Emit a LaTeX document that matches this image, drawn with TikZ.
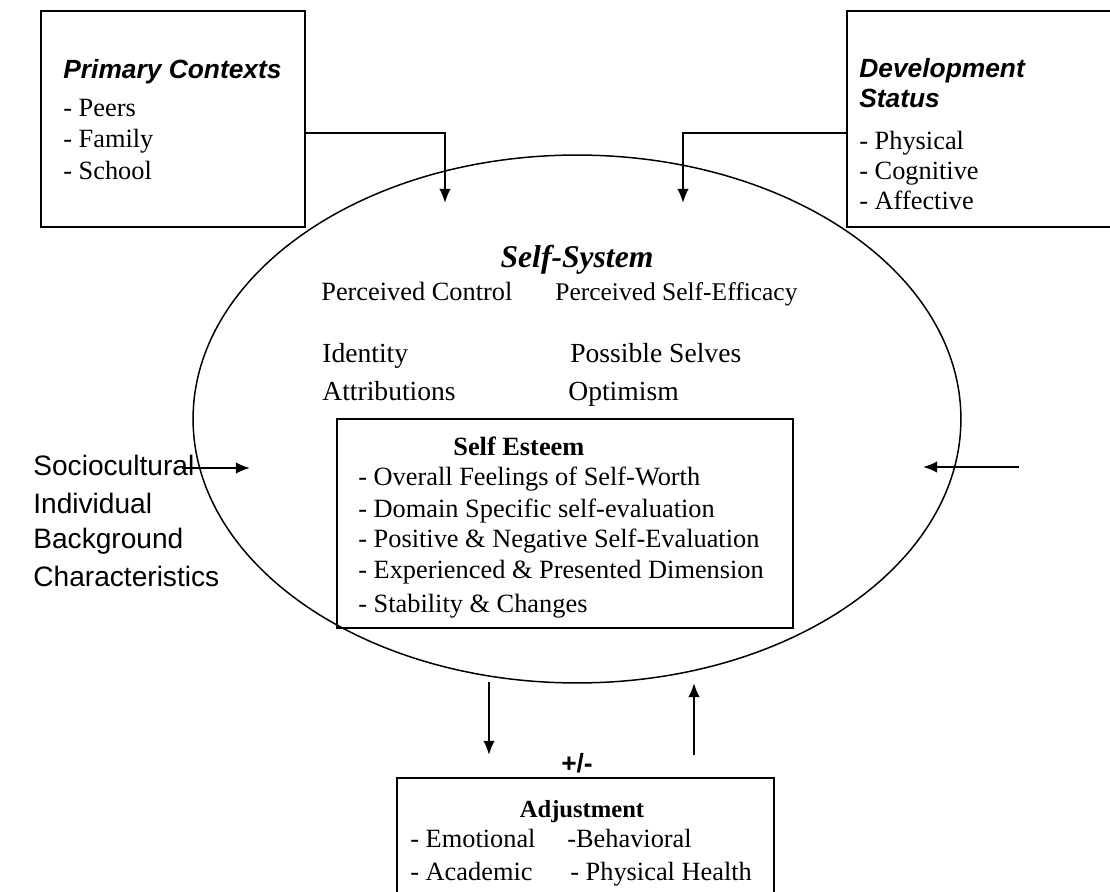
\documentclass[tikz,border=0pt]{standalone}
\usepackage{fontspec}
\setmainfont{Liberation Serif}
\setsansfont{Liberation Sans}
\usetikzlibrary{positioning,shapes.geometric,arrows.meta}
\tikzset{
    frame box/.style={draw,line width=1.1pt,rectangle,inner sep=0pt},
    txt/.style={anchor=base west,inner sep=0pt,font=\fontsize{15}{18}\selectfont},
    small txt/.style={anchor=base west,inner sep=0pt,font=\fontsize{14.5}{17}\selectfont},
    big txt/.style={anchor=base west,inner sep=0pt,font=\fontsize{15.7}{19}\selectfont},
    head/.style={anchor=base west,inner sep=0pt,font=\sffamily\bfseries\itshape\fontsize{15}{18}\selectfont},
    side/.style={anchor=base west,inner sep=0pt,font=\sffamily\fontsize{16}{20}\selectfont},
    link/.style={-{Latex[length=8pt,width=6.5pt]},line width=1.1pt}
}

\begin{document}
\begin{tikzpicture}[x=0.02cm,y=-0.02cm]
\path[use as bounding box,clip] (0,0) rectangle (1110,892);

% ========= Input Boxes =========
% == Primary Contexts ==%
\node[frame box,minimum width=5.28cm,minimum height=4.32cm] (ctx) at (173,119) {};
\node[head] (ctxhead) at (63,79) {Primary Contexts};
\node[txt] (peers) at (63,117) {- Peers};
\node[txt] (family) at (63,148) {- Family};
\node[txt] (school) at (63,180) {- School};

% == Development Status ==%
\node[frame box,minimum width=5.8cm,minimum height=4.32cm] (dev) at (992,119) {};
\node[head] (devhead) at (859,78) {Development};
\node[head] (devhead2) at (859,108) {Status};
\node[txt] (phys) at (859,150) {- Physical};
\node[txt] (cogn) at (859,180) {- Cognitive};
\node[txt] (affe) at (859,210) {- Affective};

% ========= Self-System =========
\node[draw,ellipse,line width=0.85pt,minimum width=15.36cm,minimum height=10.56cm] (sys) at (577,419) {};
\node[anchor=base,inner sep=0pt,font=\bfseries\itshape\fontsize{18}{21}\selectfont] (systitle) at (577,268) {Self-System};
\node[txt] (pcontrol) at (321,300) {Perceived Control};
\node[small txt] (pefficacy) at (555,300) {Perceived Self-Efficacy};
\node[big txt] (identity) at (322,362) {Identity};
\node[big txt] (selves) at (570,362) {Possible Selves};
\node[big txt] (attrib) at (322,400) {Attributions};
\node[big txt] (optim) at (568,400) {Optimism};

% == Self Esteem ==%
\node[frame box,minimum width=9.12cm,minimum height=4.18cm] (esteem) at (565,523.5) {};
\node[txt,font=\bfseries\fontsize{15}{18}\selectfont] (esthead) at (453,455) {Self Esteem};
\node[txt] (est1) at (358,485) {- Overall Feelings of Self-Worth};
\node[txt] (est2) at (358,517) {- Domain Specific self-evaluation};
\node[txt] (est3) at (358,547) {- Positive \& Negative Self-Evaluation};
\node[txt] (est4) at (358,578) {- Experienced \& Presented Dimension};
\node[txt] (est5) at (358,612) {- Stability \& Changes};

% ========= Background Characteristics =========
\node[side] (soc) at (33,475) {Sociocultural};
\node[side] (indiv) at (33,513) {Individual};
\node[side] (backg) at (33,548) {Background};
\node[side] (chars) at (33,586) {Characteristics};

% ========= Adjustment =========
\node[frame box,minimum width=7.54cm,minimum height=2.64cm] (adj) at (585.5,844) {};
\node[anchor=base,inner sep=0pt,font=\sffamily\bfseries\fontsize{15}{18}\selectfont] (sign) at (577,772) {+/-};
\node[anchor=base,inner sep=0pt,font=\bfseries\fontsize{14}{17}\selectfont] (adjhead) at (582,817) {Adjustment};
\node[txt] (emot) at (410,847) {- Emotional};
\node[txt] (behav) at (567,847) {-Behavioral};
\node[txt] (acad) at (410,880) {- Academic};
\node[txt] (health) at (570,880) {- Physical Health};

% ========= Arrows =========
\coordinate (ctxin) at (445,203);
\coordinate (devin) at (683,203);
\coordinate (socin) at (250,468);
\coordinate (rfree) at (1019,467);
\coordinate (rin) at (923,467);
\coordinate (outA) at (489,682);
\coordinate (adjA) at (489,755);
\coordinate (adjB) at (694,755);
\coordinate (outB) at (694,683);

\draw[link] ([yshift=-0.28cm]ctx.east) -| (ctxin);
\draw[link] ([yshift=-0.28cm]dev.west) -| (devin);
\draw[link] ([xshift=-0.26cm]socin -| soc.east) -- (socin);
\draw[link] (rfree) -- (rin);
\draw[link] (outA) -- (adjA);
\draw[link] (adjB) -- (outB);

\end{tikzpicture}
\end{document}
